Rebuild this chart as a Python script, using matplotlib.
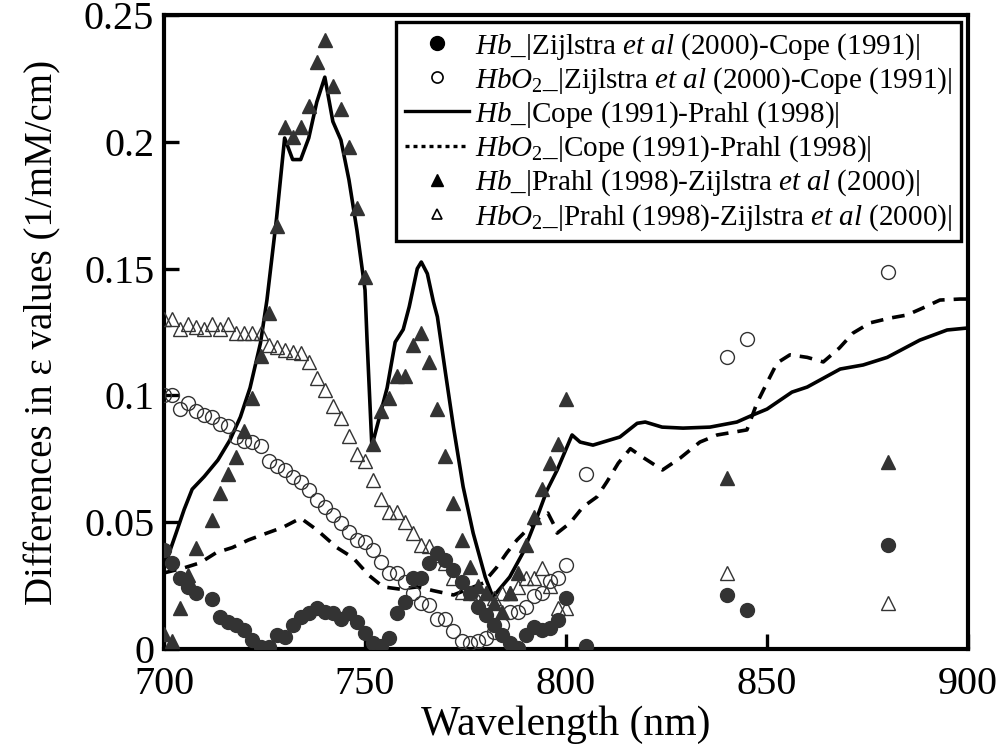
import numpy as np
import matplotlib
matplotlib.use("Agg")
import matplotlib.pyplot as plt

plt.rcParams['font.family'] = ['Liberation Serif', 'DejaVu Serif']
plt.rcParams['mathtext.fontset'] = 'custom'
plt.rcParams['mathtext.rm'] = 'Liberation Serif'
plt.rcParams['mathtext.it'] = 'Liberation Serif:italic'

nan = np.nan

# marker series, sampled every 2 nm from 700 to 800 nm
wl_grid = list(range(700, 802, 2))

hb_zc = [0.039, 0.034, 0.028, 0.0244, 0.022, nan, 0.0197, 0.0126, 0.0106, 0.0095,
         0.0075, 0.0035, 0.0008, 0.0008, 0.0055, 0.0047, 0.0095, 0.0126, 0.014, 0.016,
         0.0146, 0.014, 0.012, 0.014, 0.0106, 0.0063, 0.0024, 0.001, 0.0043, 0.0142,
         0.0185, 0.028, 0.028, 0.034, 0.038, 0.035, 0.031, 0.0264, 0.022, 0.0166,
         0.0134, 0.0095, 0.0055, 0.0024, 0.0004, 0.0055, 0.0087, 0.0075, 0.0083, 0.0114,
         0.020]
hbo2_zc = [0.100, 0.100, 0.0946, 0.0969, 0.094, 0.0923, 0.0915, 0.0887, 0.088, 0.0836,
           0.082, 0.0816, 0.080, 0.074, 0.072, 0.0705, 0.068, 0.066, 0.0627, 0.0588,
           0.056, 0.0528, 0.0497, 0.046, 0.043, 0.042, 0.039, 0.0343, 0.030, 0.030,
           0.0264, 0.022, 0.018, 0.0174, 0.012, 0.012, 0.007, 0.003, 0.0024, 0.003,
           0.0043, 0.0067, 0.0095, 0.0146, 0.0146, 0.0166, 0.021, 0.022, 0.027, 0.028,
           0.033]
hb_pz = [0.006, 0.003, 0.016, 0.029, 0.040, nan, 0.051, 0.0615, 0.069, 0.0757,
         0.086, 0.099, 0.1155, 0.1325, 0.167, 0.206, 0.202, 0.206, 0.214, 0.2315,
         0.240, 0.222, 0.213, 0.198, 0.174, 0.1467, 0.0808, 0.094, 0.099, 0.1077,
         0.1077, 0.12, 0.1246, 0.113, 0.0946, 0.076, 0.0576, 0.043, 0.0323, 0.025,
         0.022, 0.018, 0.0146, 0.022, 0.030, 0.041, 0.052, 0.063, 0.0733, 0.081,
         0.0986]
hbo2_pz = [0.130, 0.130, 0.126, 0.128, 0.127, 0.126, 0.128, 0.126, 0.128, 0.1245,
           0.1245, 0.1245, 0.1245, 0.120, 0.119, 0.118, 0.117, 0.1167, 0.113, 0.107,
           0.102, 0.096, 0.091, 0.084, 0.077, 0.074, 0.0666, 0.059, 0.054, 0.054,
           0.050, 0.0457, 0.041, 0.0406, 0.037, 0.034, 0.028, 0.0225, 0.022, 0.019,
           0.022, 0.020, 0.022, 0.022, 0.0245, 0.028, 0.028, 0.032, 0.025, 0.016,
           0.016]

# sparse points beyond 800 nm
wl_zc_far = [805, 840, 845, 880]
hb_zc_far = [0.001, 0.0213, 0.0154, 0.041]
hbo2_zc_far = [0.069, 0.115, 0.1222, 0.1487]
wl_pz_far = [840, 880]
hb_pz_far = [0.0674, 0.0739]
hbo2_pz_far = [0.030, 0.018]

# Cope - Prahl curves
wl_hb_cp = [700, 703, 705, 707, 710, 713.4, 716.4, 719, 721.4, 724, 725.6, 728, 730,
            732, 734, 736, 738, 740, 742, 744, 746, 748, 750, 750.5, 751.7, 755.5,
            757.5, 759.5, 761, 763, 764, 765.5, 767, 768, 770, 772, 774.4, 776.9,
            779.9, 781.8, 786, 789.3, 792.8, 795.3, 797.8, 801.5, 803.5, 806.7, 809.2,
            813.4, 817.7, 819.7, 823.9, 829.1, 835.8, 842.5, 846.5, 850, 856.2, 860,
            868.2, 873.9, 879.9, 888, 894.8, 900]
hb_cp = [0.032, 0.0457, 0.055, 0.063, 0.068, 0.0745, 0.0824, 0.0915, 0.103, 0.1207,
         0.1376, 0.170, 0.2015, 0.193, 0.193, 0.2015, 0.2157, 0.2255, 0.208, 0.2007,
         0.185, 0.165, 0.1416, 0.122, 0.080, 0.103, 0.121, 0.126, 0.135, 0.150,
         0.1526, 0.148, 0.137, 0.131, 0.109, 0.0875, 0.064, 0.0457, 0.0284, 0.0205,
         0.0284, 0.038, 0.052, 0.0627, 0.0706, 0.0844, 0.0816, 0.0804, 0.0816, 0.0836,
         0.089, 0.0895, 0.0875, 0.0871, 0.0875, 0.0895, 0.0923, 0.0946, 0.1013, 0.1033,
         0.1104, 0.112, 0.115, 0.1218, 0.1258, 0.1266]

wl_hbo2_cp = [700, 705, 709, 713, 717, 721, 725.6, 729.6, 734, 738, 743, 747, 751,
              754.5, 758.7, 763, 767, 772, 779.4, 782.8, 785.3, 787.8, 790.3, 793.5,
              795.5, 797.3, 797.8, 801, 804.2, 807.7, 810.2, 813, 816, 819, 824,
              828.4, 833.3, 837.6, 845, 847.5, 850, 852.5, 855.7, 860, 864, 868,
              871.4, 875.6, 880.6, 884.8, 888.8, 893, 898, 900]
hbo2_cp = [0.030, 0.032, 0.034, 0.038, 0.040, 0.043, 0.0457, 0.048, 0.0516, 0.047,
           0.040, 0.036, 0.029, 0.0245, 0.0236, 0.0245, 0.023, 0.0213, 0.026, 0.0323,
           0.038, 0.043, 0.047, 0.052, 0.0536, 0.048, 0.0457, 0.0497, 0.056, 0.060,
           0.066, 0.0733, 0.079, 0.0757, 0.0706, 0.0753, 0.0816, 0.0844, 0.0864, 0.097,
           0.105, 0.1128, 0.116, 0.115, 0.1132, 0.1187, 0.1246, 0.1286, 0.1305, 0.1317,
           0.1345, 0.1376, 0.138, 0.138]

labels = [r'$\it{Hb}$_|Zijlstra $\it{et\ al}$ (2000)-Cope (1991)|',
          r'$\it{HbO_2}$_|Zijlstra $\it{et\ al}$ (2000)-Cope (1991)|',
          r'$\it{Hb}$_|Cope (1991)-Prahl (1998)|',
          r'$\it{HbO_2}$_|Cope (1991)-Prahl (1998)|',
          r'$\it{Hb}$_|Prahl (1998)-Zijlstra $\it{et\ al}$ (2000)|',
          r'$\it{HbO_2}$_|Prahl (1998)-Zijlstra $\it{et\ al}$ (2000)|']

dark = '#333333'

fig = plt.figure(figsize=(10.02, 7.55), dpi=100)
ax = fig.add_axes([0.1637, 0.1404, 0.8024, 0.8397])

ax.plot(wl_hb_cp, hb_cp, color='black', lw=2.6, zorder=2)
ax.plot(wl_hbo2_cp, hbo2_cp, color='black', lw=2.6, ls=(0, (3.5, 2.5)), zorder=2)

ms = 10
ax.plot(wl_grid + wl_zc_far, hb_zc + hb_zc_far, 'o', ls='none', ms=ms,
        mfc=dark, mec=dark, zorder=3)
ax.plot(wl_grid + wl_zc_far, hbo2_zc + hbo2_zc_far, 'o', ls='none', ms=ms,
        mfc='none', mec=dark, mew=1.0, zorder=3)
ax.plot(wl_grid + wl_pz_far, hb_pz + hb_pz_far, '^', ls='none', ms=ms,
        mfc=dark, mec=dark, zorder=3)
ax.plot(wl_grid + wl_pz_far, hbo2_pz + hbo2_pz_far, '^', ls='none', ms=ms,
        mfc='none', mec=dark, mew=1.0, zorder=3)

# legend built from proxy handles in the reference order
h1, = ax.plot([], [], 'o', ls='none', ms=10, mfc='black', mec='black')
h2, = ax.plot([], [], 'o', ls='none', ms=8, mfc='none', mec='black', mew=1.2)
h3, = ax.plot([], [], color='black', lw=2.4)
h4, = ax.plot([], [], color='black', lw=2.4, ls=(0, (1.2, 1.2)))
h5, = ax.plot([], [], '^', ls='none', ms=9, mfc='black', mec='black')
h6, = ax.plot([], [], '^', ls='none', ms=7, mfc='none', mec='black', mew=1.2)
leg = ax.legend([h1, h2, h3, h4, h5, h6], labels, loc='upper right',
                fontsize=21, frameon=True, fancybox=False, framealpha=1,
                edgecolor='black', borderaxespad=0.25, handlelength=2.2,
                handletextpad=0.2, labelspacing=0.12, borderpad=0.3)
leg.get_frame().set_linewidth(2.4)

ax.set_xlim(700, 900)
ax.set_ylim(0, 0.25)
ax.set_xticks([700, 750, 800, 850, 900])
ax.set_yticks([0, 0.05, 0.1, 0.15, 0.2, 0.25])
ax.set_yticklabels(['0', '0.05', '0.1', '0.15', '0.2', '0.25'])
ax.tick_params(direction='in', length=11, width=2.4, labelsize=29, top=False,
               right=False)
ax.tick_params(axis='x', pad=12)
ax.tick_params(axis='y', pad=7)
for s in ax.spines.values():
    s.set_linewidth(3)

ax.set_xlabel('Wavelength (nm)', fontsize=30, labelpad=2)
ax.set_ylabel('Differences in \u03b5 values (1/mM/cm)', fontsize=28, labelpad=16)

fig.savefig('out.png', dpi=100)
